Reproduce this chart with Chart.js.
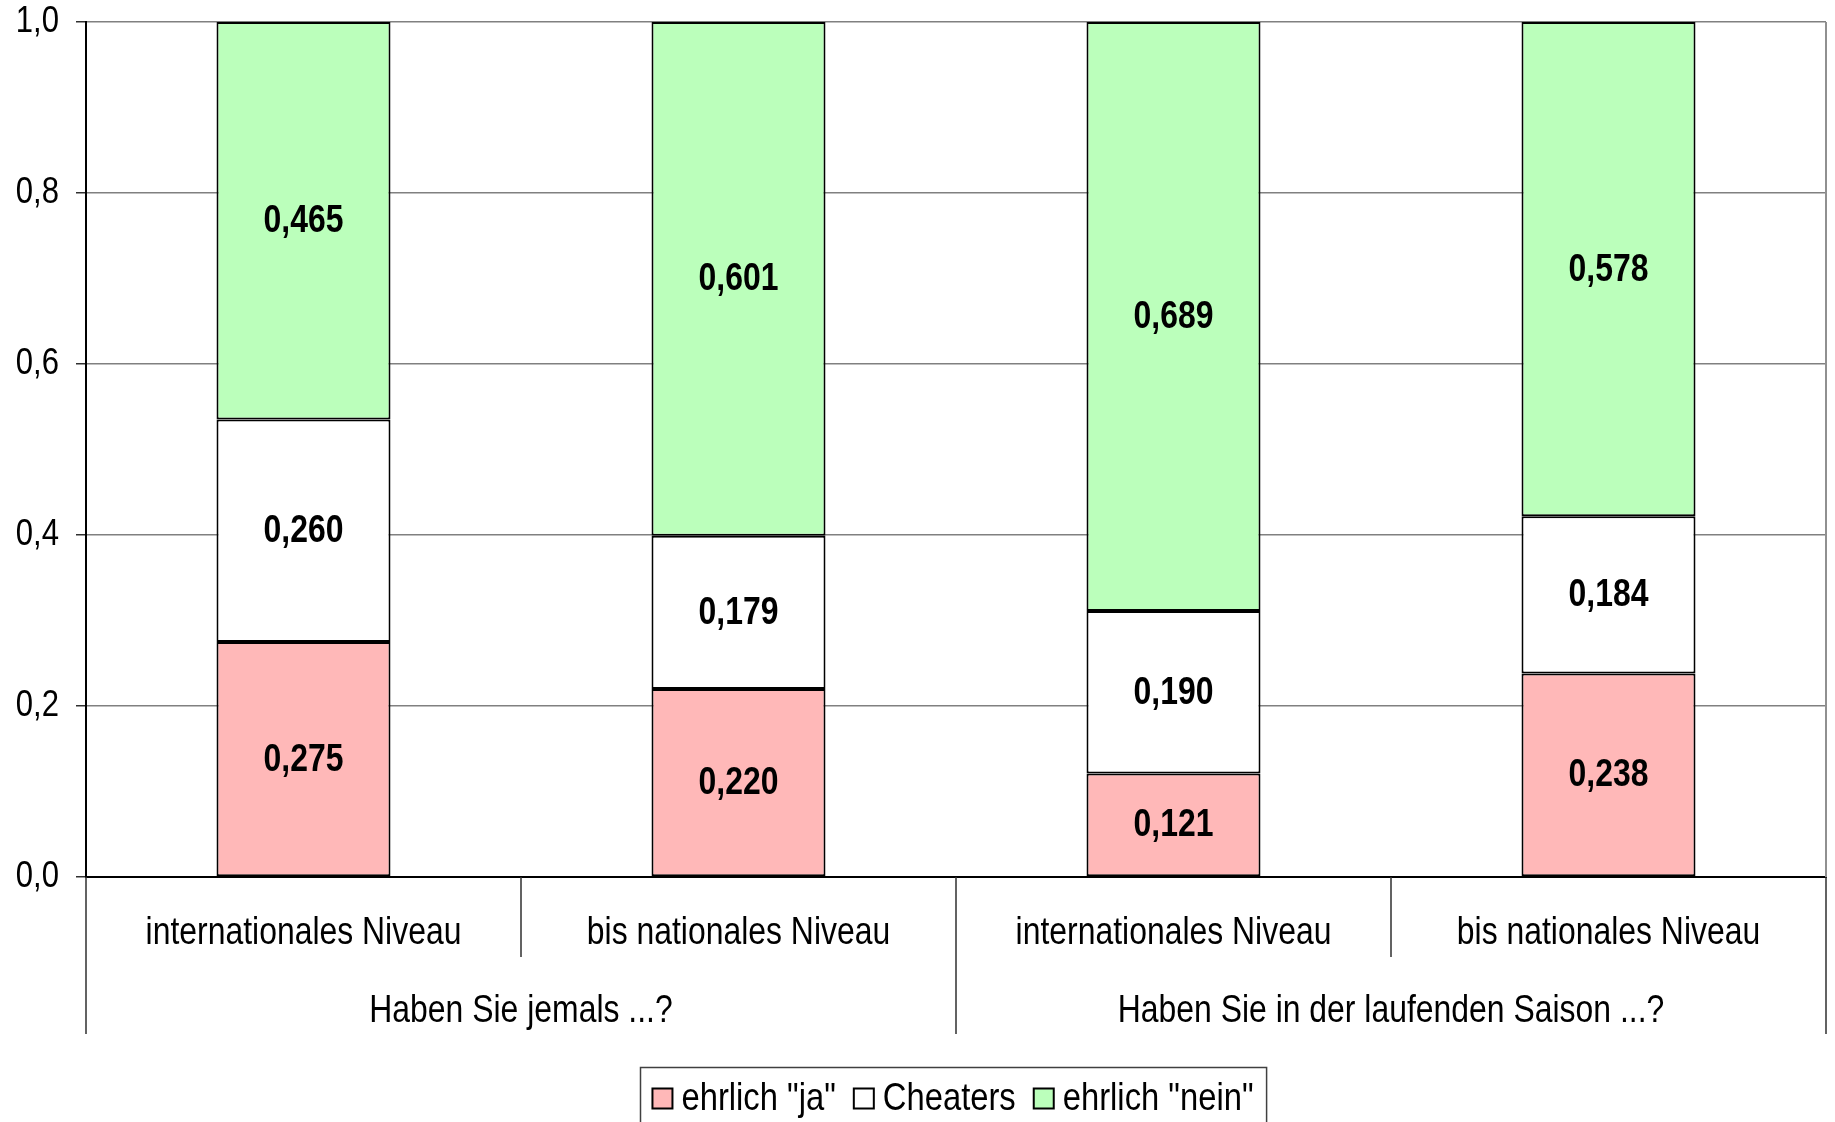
<!DOCTYPE html>
<html>
<head>
<meta charset="utf-8">
<script src="https://cdn.jsdelivr.net/npm/chart.js@4"></script>
<style>
  html, body { margin: 0; padding: 0; background: #fff; }
  #wrap { width: 1835px; height: 1122px; }
</style>
</head>
<body>
<div id="wrap"><canvas id="chart-bar" width="1835" height="1122"></canvas></div>
<script>
var categories = ['internationales Niveau', 'bis nationales Niveau', 'internationales Niveau', 'bis nationales Niveau'];
var groups = ['Haben Sie jemals ...?', 'Haben Sie in der laufenden Saison ...?'];
var seriesNames = ['ehrlich "ja"', 'Cheaters', 'ehrlich "nein"'];
var ja = [0.275, 0.220, 0.121, 0.238];
var cheaters = [0.260, 0.179, 0.190, 0.184];
var nein = [0.465, 0.601, 0.689, 0.578];
var yTicks = [0, 0.2, 0.4, 0.6, 0.8, 1.0];

var FONT = '"Liberation Sans", Arial, sans-serif';
var SX = 0.84; // no narrow font here, so squeeze text horizontally

function comma(v, d) {
    return v.toFixed(d).replace('.', ',');
}

const ctx = document.getElementById('chart-bar').getContext('2d');

// fake a condensed face: every text drawn / measured on this canvas is squeezed
var origFill = ctx.fillText.bind(ctx);
var origMeasure = ctx.measureText.bind(ctx);
ctx.fillText = function(text, x, y) {
    ctx.save();
    ctx.translate(x, y);
    ctx.scale(SX, 1);
    origFill(text, 0, 0);
    ctx.restore();
};
ctx.measureText = function(text) {
    var m = origMeasure(text);
    return {
        width: m.width * SX,
        actualBoundingBoxLeft: m.actualBoundingBoxLeft * SX,
        actualBoundingBoxRight: m.actualBoundingBoxRight * SX,
        actualBoundingBoxAscent: m.actualBoundingBoxAscent,
        actualBoundingBoxDescent: m.actualBoundingBoxDescent
    };
};

// value labels in the middle of each segment
var valueLabels = {
    id: 'valueLabels',
    afterDatasetsDraw: function(chart) {
        var c = chart.ctx;
        c.save();
        c.font = 'bold 38px ' + FONT;
        c.fillStyle = '#000';
        c.textAlign = 'center';
        c.textBaseline = 'middle';
        chart.data.datasets.forEach(function(ds, i) {
            chart.getDatasetMeta(i).data.forEach(function(el, j) {
                c.fillText(comma(ds.data[j], 3), el.x, (el.y + el.base) / 2 + 1);
            });
        });
        c.restore();
    }
};

// two level category axis, right border, framed legend
var axisExtras = {
    id: 'axisExtras',
    afterDraw: function(chart) {
        var c = chart.ctx;
        var x = chart.scales.x;
        var area = chart.chartArea;
        var half = (x.getPixelForValue(1) - x.getPixelForValue(0)) / 2;
        c.save();
        // right plot border
        c.strokeStyle = '#909090';
        c.lineWidth = 2;
        c.beginPath();
        c.moveTo(area.right, area.top);
        c.lineTo(area.right, area.bottom);
        c.stroke();
        // separators
        c.strokeStyle = '#303030';
        c.lineWidth = 1.5;
        c.beginPath();
        [0, 2, 4].forEach(function(i) {
            var px = x.getPixelForValue(i) - half;
            c.moveTo(px, area.bottom);
            c.lineTo(px, area.bottom + 157);
        });
        [1, 3].forEach(function(i) {
            var px = x.getPixelForValue(i) - half;
            c.moveTo(px, area.bottom);
            c.lineTo(px, area.bottom + 80);
        });
        c.stroke();
        // group labels
        c.font = '38px ' + FONT;
        c.fillStyle = '#000';
        c.textAlign = 'center';
        c.textBaseline = 'middle';
        groups.forEach(function(g, k) {
            var cx = (x.getPixelForValue(2 * k) + x.getPixelForValue(2 * k + 1)) / 2;
            c.fillText(g, cx, area.bottom + 135);
        });
        // legend
        var ds = chart.data.datasets;
        c.font = '39px ' + FONT;
        c.textAlign = 'left';
        var sq = 20, gapIn = 9, gapOut = 18;
        var widths = ds.map(function(d) { return c.measureText(d.label).width; });
        var total = 0;
        widths.forEach(function(w, i) { total += sq + gapIn + w + (i < widths.length - 1 ? gapOut : 0); });
        var lx = 953 - total / 2;
        var cy = 1098.5;
        c.strokeStyle = '#404040';
        c.lineWidth = 1.5;
        c.strokeRect(Math.round(lx - 12) + 0.5, 1067.5, total + 25, 80);
        ds.forEach(function(d, i) {
            c.fillStyle = d.backgroundColor;
            c.fillRect(lx, cy - 10, sq, sq);
            c.strokeStyle = '#000';
            c.lineWidth = 2;
            c.strokeRect(lx, cy - 10, sq, sq);
            c.fillStyle = '#000';
            c.fillText(d.label, lx + sq + gapIn, cy + 1);
            lx += sq + gapIn + widths[i] + gapOut;
        });
        c.restore();
    }
};

const myChart = new Chart(ctx, {
    type: 'bar',
    data: {
        labels: categories,
        datasets: [{
            label: seriesNames[0],
            data: ja,
            backgroundColor: '#FFB8B8',
            borderColor: '#000',
            borderWidth: 2,
            borderSkipped: false
        },
        {
            label: seriesNames[1],
            data: cheaters,
            backgroundColor: '#FFFFFF',
            borderColor: '#000',
            borderWidth: 2,
            borderSkipped: false
        },
        {
            label: seriesNames[2],
            data: nein,
            backgroundColor: '#BBFFBB',
            borderColor: '#000',
            borderWidth: 2,
            borderSkipped: false
        }]
    },
    options: {
        responsive: false,
        animation: false,
        barPercentage: 0.4,
        categoryPercentage: 1.0,
        layout: { padding: { left: 0, top: 22, right: 9, bottom: 0 } },
        plugins: {
            tooltip: { enabled: false },
            legend: { display: false }
        },
        scales: {
            x: {
                stacked: true,
                grid: { display: false, drawTicks: false },
                border: { color: '#000', width: 2 },
                ticks: {
                    color: '#000',
                    font: { family: FONT, size: 38 },
                    padding: 34,
                    maxRotation: 0,
                    autoSkip: false
                },
                afterFit: function(scale) { scale.height = 245; }
            },
            y: {
                stacked: true,
                min: 0,
                max: 1,
                afterBuildTicks: function(scale) {
                    scale.ticks = yTicks.map(function(v) { return { value: v }; });
                },
                grid: { color: '#808080', lineWidth: 1.5, tickLength: 10, tickColor: '#303030' },
                border: { color: '#000', width: 2 },
                ticks: {
                    color: '#000',
                    font: { family: FONT, size: 37 },
                    padding: 17,
                    callback: function(v) { return comma(v, 1); }
                },
                afterFit: function(scale) {
                    scale.width = 86;
                    scale.paddingTop = 0;
                    scale.paddingBottom = 0;
                }
            }
        }
    },
    plugins: [valueLabels, axisExtras]
});
</script>
</body>
</html>
